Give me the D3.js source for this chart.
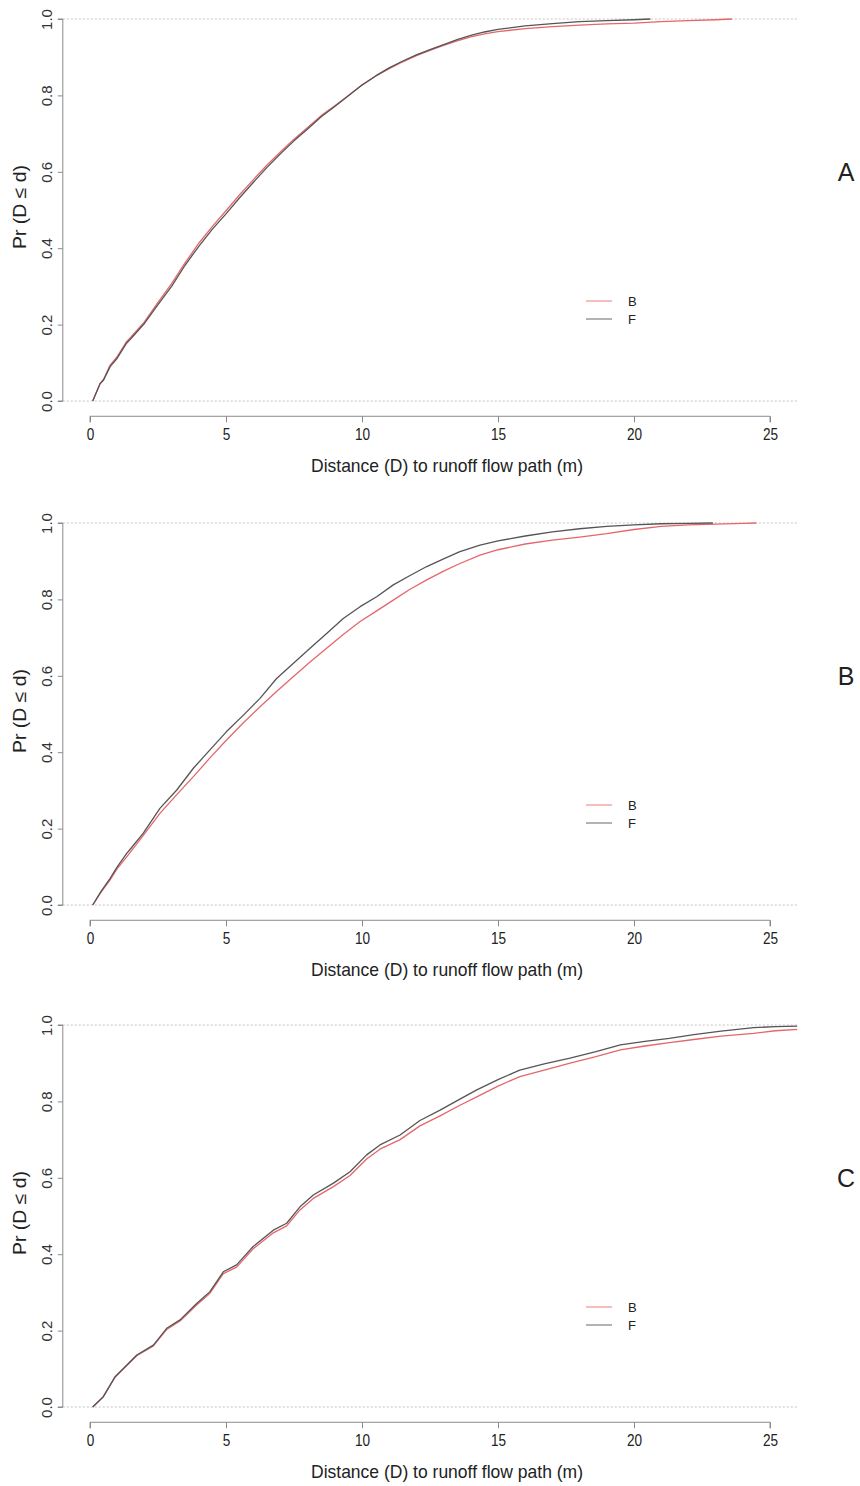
<!DOCTYPE html>
<html>
<head>
<meta charset="utf-8">
<script src="https://cdn.jsdelivr.net/npm/d3@7"></script>
<style>
  html, body { margin: 0; padding: 0; background: #fff; }
  svg { display: block; }
</style>
</head>
<body>
<svg id="chart" width="860" height="1486"></svg>
<script>
// Empirical cumulative distributions of distance to the runoff flow path
// for surfaces B and F, three sites (A, B, C).

const panelLabels = ["A", "B", "C"];
const seriesNames = ["B", "F"];
const xTicks = [0, 5, 10, 15, 20, 25];
const yTicks = [0.0, 0.2, 0.4, 0.6, 0.8, 1.0];

// Site A
const siteA_B_d = [0.1, 0.37, 0.5, 0.74, 1.0, 1.35, 1.5, 2.0, 2.5, 3.0, 3.5, 4.0, 4.5, 5.0, 5.5, 6.0, 6.5, 7.0, 7.5, 8.0, 8.5, 9.0, 9.5, 10, 10.5, 11, 11.5, 12, 12.5, 13, 13.5, 14, 14.5, 15, 16, 17, 18, 19, 20, 21, 22, 23, 23.6];
const siteA_B_p = [0, 0.046, 0.057, 0.094, 0.116, 0.156, 0.167, 0.207, 0.258, 0.307, 0.362, 0.413, 0.457, 0.498, 0.540, 0.579, 0.617, 0.652, 0.685, 0.716, 0.747, 0.773, 0.800, 0.827, 0.850, 0.870, 0.888, 0.904, 0.918, 0.931, 0.943, 0.953, 0.961, 0.967, 0.975, 0.980, 0.984, 0.987, 0.989, 0.993, 0.996, 0.998, 1.0];
const siteA_F_d = [0.1, 0.37, 0.5, 0.74, 1.0, 1.35, 1.5, 2.0, 2.5, 3.0, 3.5, 4.0, 4.5, 5.0, 5.5, 6.0, 6.5, 7.0, 7.5, 8.0, 8.5, 9.0, 9.5, 10, 10.5, 11, 11.5, 12, 12.5, 13, 13.5, 14, 14.5, 15, 16, 17, 18, 19, 20, 20.6];
const siteA_F_p = [0, 0.045, 0.055, 0.090, 0.112, 0.152, 0.163, 0.203, 0.252, 0.300, 0.356, 0.405, 0.450, 0.490, 0.532, 0.572, 0.611, 0.647, 0.681, 0.712, 0.744, 0.771, 0.799, 0.827, 0.851, 0.872, 0.890, 0.906, 0.920, 0.933, 0.946, 0.957, 0.966, 0.973, 0.982, 0.988, 0.993, 0.996, 0.998, 1.0];

// Site B
const siteB_B_d = [0.1, 0.4, 0.74, 1.0, 1.35, 1.96, 2.57, 3.19, 3.8, 4.41, 5.02, 5.64, 6.25, 6.86, 7.48, 8.09, 8.7, 9.31, 9.93, 10.54, 11.15, 11.75, 12.38, 13.0, 13.6, 14.34, 15, 16, 17, 18, 19, 20, 21, 22, 23, 24, 24.5];
const siteB_B_p = [0, 0.033, 0.066, 0.095, 0.126, 0.182, 0.240, 0.289, 0.336, 0.385, 0.432, 0.477, 0.519, 0.559, 0.598, 0.636, 0.672, 0.708, 0.742, 0.770, 0.798, 0.826, 0.851, 0.874, 0.894, 0.916, 0.930, 0.945, 0.955, 0.963, 0.972, 0.983, 0.991, 0.995, 0.997, 0.999, 1.0];
const siteB_F_d = [0.1, 0.4, 0.74, 1.0, 1.35, 1.5, 1.96, 2.57, 3.19, 3.8, 4.41, 5.02, 5.64, 6.25, 6.86, 7.48, 8.09, 8.7, 9.31, 9.93, 10.54, 11.15, 11.75, 12.38, 13.0, 13.6, 14.34, 15, 16, 17, 18, 19, 20, 21, 22, 22.9];
const siteB_F_p = [0, 0.035, 0.070, 0.100, 0.135, 0.148, 0.188, 0.253, 0.301, 0.358, 0.406, 0.454, 0.497, 0.541, 0.593, 0.633, 0.672, 0.711, 0.750, 0.781, 0.807, 0.838, 0.862, 0.886, 0.906, 0.925, 0.942, 0.953, 0.966, 0.977, 0.985, 0.991, 0.995, 0.998, 0.999, 1.0];

// Site C
const siteC_d = [0.1, 0.49, 0.92, 1.23, 1.72, 2.33, 2.82, 3.31, 3.92, 4.41, 4.9, 5.39, 6.0, 6.74, 7.23, 7.72, 8.21, 8.95, 9.56, 10.17, 10.66, 11.4, 12.13, 12.87, 13.6, 14.22, 15.0, 15.8, 16.7, 17.65, 18.6, 19.5, 20.4, 21.3, 22.2, 23.2, 24.4, 25.2, 26.2];
const siteC_B_p = [0, 0.027, 0.078, 0.100, 0.134, 0.160, 0.203, 0.225, 0.267, 0.298, 0.349, 0.366, 0.414, 0.456, 0.474, 0.516, 0.546, 0.577, 0.606, 0.649, 0.675, 0.700, 0.736, 0.762, 0.790, 0.812, 0.840, 0.865, 0.882, 0.900, 0.917, 0.935, 0.945, 0.954, 0.962, 0.971, 0.978, 0.985, 0.989];
const siteC_F_p = [0, 0.027, 0.079, 0.101, 0.136, 0.162, 0.206, 0.228, 0.271, 0.302, 0.354, 0.372, 0.420, 0.463, 0.481, 0.524, 0.555, 0.586, 0.616, 0.660, 0.686, 0.712, 0.750, 0.777, 0.806, 0.830, 0.857, 0.882, 0.898, 0.913, 0.930, 0.948, 0.957, 0.965, 0.975, 0.984, 0.993, 0.996, 0.997];

const zip = (d, p) => d.map((v, i) => ({ d: v, p: p[i] }));
const panels = [
  { label: panelLabels[0], B: zip(siteA_B_d, siteA_B_p), F: zip(siteA_F_d, siteA_F_p) },
  { label: panelLabels[1], B: zip(siteB_B_d, siteB_B_p), F: zip(siteB_F_d, siteB_F_p) },
  { label: panelLabels[2], B: zip(siteC_d, siteC_B_p), F: zip(siteC_d, siteC_F_p) }
];

const colors = { B: "#e5666a", F: "#555555" };
const legendColors = { B: "#f19a9a", F: "#8a8a8a" };
const narrow = "'Liberation Sans Narrow', 'Arial Narrow', 'Liberation Sans', Arial, sans-serif";
const sans = "'Liberation Sans', Arial, Helvetica, sans-serif";

const svg = d3.select("#chart");
const panelOffsets = [0, 504, 1006];

panels.forEach((panel, i) => {
  const off = panelOffsets[i];
  const x = d3.scaleLinear().domain([0, 25]).range([90, 770]);
  const y = d3.scaleLinear().domain([0, 1]).range([401 + off, 19 + off]);
  // plot region with 4% padding on both axes
  const px0 = x(-1), px1 = x(26);
  const py0 = y(-0.04), py1 = y(1.04);

  const g = svg.append("g");

  const clipId = "clip" + i;
  g.append("clipPath").attr("id", clipId)
    .append("rect")
    .attr("x", px0).attr("y", py1)
    .attr("width", px1 - px0).attr("height", py0 - py1);

  // reference lines at 0 and 1
  g.selectAll(".ref").data([0, 1]).enter().append("line")
    .attr("x1", px0).attr("x2", px1)
    .attr("y1", d => y(d)).attr("y2", d => y(d))
    .attr("stroke", "#c4c4c4").attr("stroke-width", 1)
    .attr("stroke-dasharray", "2,2");

  // x axis
  const xAxis = d3.axisBottom(x).tickValues(xTicks).tickSize(6).tickPadding(6)
    .tickFormat(d3.format("d"));
  const gx = g.append("g").attr("transform", `translate(0,${py0})`).call(xAxis);
  gx.select(".domain").attr("stroke", "#8a8a8a").attr("d", `M${x(0)},6V0H${x(25)}V6`);
  gx.selectAll(".tick line").attr("stroke", "#8a8a8a");
  gx.selectAll(".tick text")
    .attr("font-family", narrow).attr("font-size", 17).attr("fill", "#222")
    .attr("transform", "scale(0.8,1)");

  // y axis
  const yAxis = d3.axisLeft(y).tickValues(yTicks).tickSize(5).tickPadding(4)
    .tickFormat(d3.format(".1f"));
  const gy = g.append("g").attr("transform", `translate(${px0},0)`).call(yAxis);
  gy.select(".domain").attr("stroke", "#8a8a8a").attr("d", `M-5,${y(0)}H0V${y(1)}H-5`);
  gy.selectAll(".tick line").attr("stroke", "#8a8a8a");
  gy.selectAll(".tick text")
    .attr("font-family", sans).attr("font-size", 15).attr("fill", "#333")
    .attr("text-anchor", "middle")
    .attr("transform", "translate(-16,0) rotate(-90)")
    .attr("x", 0).attr("y", 0).attr("dy", "0.35em");

  // axis titles
  g.append("text")
    .attr("x", 447).attr("y", 472 + off)
    .attr("text-anchor", "middle")
    .attr("font-family", narrow).attr("font-size", 19).attr("fill", "#222")
    .attr("textLength", 272).attr("lengthAdjust", "spacingAndGlyphs")
    .text("Distance (D) to runoff flow path (m)");

  g.append("text")
    .attr("transform", `translate(26,${207 + off}) rotate(-90)`)
    .attr("text-anchor", "middle")
    .attr("font-family", sans).attr("font-size", 18).attr("fill", "#222")
    .attr("textLength", 84).attr("lengthAdjust", "spacingAndGlyphs")
    .text("Pr (D \u2264 d)");

  // panel letter
  g.append("text")
    .attr("x", 846).attr("y", 181 + off)
    .attr("text-anchor", "middle")
    .attr("font-family", sans).attr("font-size", 25).attr("fill", "#222")
    .text(panel.label);

  // ECDF curves
  const line = d3.line().x(d => x(d.d)).y(d => y(d.p));
  const curves = g.append("g").attr("clip-path", `url(#${clipId})`);
  seriesNames.forEach(s => {
    curves.append("path")
      .datum(panel[s])
      .attr("fill", "none")
      .attr("stroke", colors[s])
      .attr("stroke-width", 1.3)
      .attr("stroke-linejoin", "round")
      .attr("d", line);
  });

  // legend
  const leg = g.append("g");
  seriesNames.forEach((s, k) => {
    const ly = 301 + off + k * 18;
    leg.append("line")
      .attr("x1", 586).attr("x2", 612)
      .attr("y1", ly).attr("y2", ly)
      .attr("stroke", legendColors[s]).attr("stroke-width", 1.3);
    leg.append("text")
      .attr("x", 628).attr("y", ly).attr("dy", "0.35em")
      .attr("font-family", sans).attr("font-size", 13).attr("fill", "#222")
      .text(s);
  });
});
</script>
</body>
</html>
